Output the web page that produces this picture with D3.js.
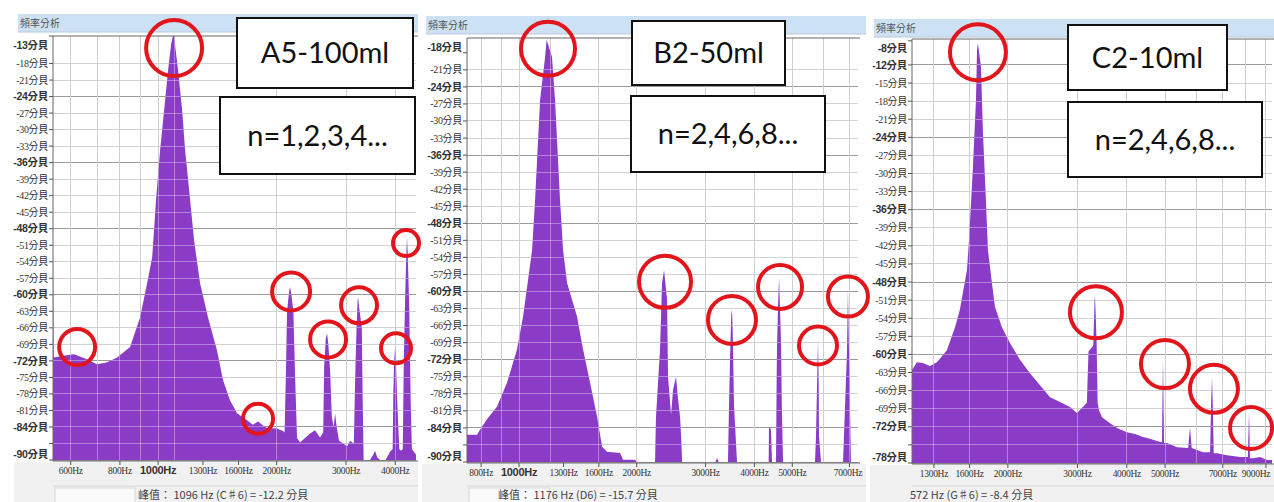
<!DOCTYPE html>
<html>
<head>
<meta charset="utf-8">
<script src="https://cdn.jsdelivr.net/npm/d3@7.9.0/dist/d3.min.js"></script>
<style>
  body { margin: 0; background: #fff; }
  svg { display: block; }
</style>
</head>
<body>
<svg id="chart" width="1274" height="502"></svg>
<script>
// ---- panel A : A5-100ml ----
const freqA = [541, 543, 580, 612, 650, 700, 740, 787, 849, 900, 938, 966, 988, 1012, 1036, 1060, 1079, 1096, 1104, 1124, 1151, 1171, 1206, 1234, 1278, 1339, 1411, 1462, 1523, 1586, 1682, 1740, 1794, 1850, 1891, 2004, 2080,
  2095, 2110, 2125, 2150, 2163, 2180, 2205, 2230, 2253, 2293, 2360, 2431, 2503, 2577, 2625,
  2640, 2665, 2685, 2705, 2735, 2760, 2790, 2814, 2840, 2880, 2949, 3020, 3072, 3140,
  3165, 3190, 3210, 3219, 3235, 3290, 3305, 3325, 3450, 3520, 3554, 3600, 3660, 3780, 3880, 3940,
  3955, 3975, 3996, 4015, 4050, 4095, 4140, 4180, 4205, 4240, 4270, 4286, 4300, 4340, 4380, 4410, 4438, 4516];
const dbA = [-52, -71.4, -71, -70.8, -71.5, -72.6, -72.3, -71.4, -69.5, -64.1, -57.9, -53.2, -42.8, -33.7, -26.5, -19.2, -14.6, -12.2, -14.6, -19.2, -26.5, -33.7, -42.8, -50.1, -57.9, -64.1, -70.1, -75.5, -79.2, -81.5, -82.8, -83.6, -83.0, -83.8, -84.2, -84.3, -84.8,
  -85, -75, -63, -59.5, -58.6, -60, -63, -76, -86, -86.8, -86, -85.2, -84.6, -85.9, -85,
  -73, -68, -67, -69, -74, -82, -84, -81.5, -84, -86.5, -87, -87.5, -86.5, -87,
  -75, -66, -61, -60.5, -62, -66, -78, -90, -90, -89, -88.3, -89.5, -90, -90, -88.5, -88,
  -78, -72, -69.5, -72, -80, -88, -88.3, -88, -72, -60, -52, -49.7, -52, -62, -80, -88, -88.3, -89];
const domainA = [541, 4516];
const yTicksA = [-13, -18, -21, -24, -27, -30, -33, -36, -39, -42, -45, -48, -51, -54, -57, -60, -63, -66, -69, -72, -75, -78, -81, -84, -87, -90];
const yBoldA = [-13, -24, -36, -48, -60, -72, -84, -90];
const yHideA = [-87];
const gridA = [600, 700, 800, 900, 1000, 1100, 2000, 3000, 4000];
const xTicksA = [600, 800, 1000, 1300, 1600, 2000, 3000, 4000];
const ringFreqA = [1098, 623, 1794, 2176, 2701, 3237, 4018, 4260];
const ringDbA = [-15.2, -69.5, -82.5, -59.4, -68.1, -61.9, -69.7, -50.6];
const ringRA = [28, 18, 15, 19, 18, 18, 15, 13];

// ---- panel B : B2-50ml ----
const freqB = [736, 781, 795, 828, 878, 932, 988, 1024, 1080, 1099, 1132, 1166, 1176, 1214, 1236, 1273, 1296, 1327, 1407, 1458, 1519, 1583, 1631, 1679, 1813, 1845, 1980, 2000,
  2228, 2240, 2254, 2294, 2321, 2349, 2391, 2405, 2448, 2477, 2521, 2551, 2581, 2600, 2612,
  3180, 3210, 3240, 3423, 3440, 3464, 3490, 3505, 3520, 3547, 3610,
  4350, 4358, 4384, 4410, 4437, 4542, 4560, 4569, 4600, 4624, 4650, 4679, 4700, 4734,
  5715, 5749, 5790, 5817, 5840, 5852, 5921, 6741, 6822, 6898, 6939, 6982, 7020, 7064, 7362];
const dbB = [-85.2, -85.2, -84.3, -82.5, -80.3, -76, -70.2, -64.4, -52.7, -43.9, -26.3, -18.7, -15.7, -18.7, -26.3, -43.9, -52.7, -58.5, -64.4, -70.2, -76, -82, -87.3, -88.2, -88.4, -89.6, -89.6, -90,
  -90, -82, -79, -70.2, -58.5, -56.2, -61.4, -75, -81.7, -77.3, -75, -79, -82, -86, -90,
  -90, -89.3, -90, -90, -82, -72, -64, -63.2, -67, -80, -90,
  -90, -84, -83.8, -84.5, -90, -90, -75, -69.7, -62, -57.6, -63, -69, -80, -90,
  -90, -85.5, -75, -68.5, -76, -85.5, -90, -90, -80, -70.8, -59.7, -70.8, -80, -90, -90];
const domainB = [736, 7362];
const yTicksB = [-18, -21, -24, -27, -30, -33, -36, -39, -42, -45, -48, -51, -54, -57, -60, -63, -66, -69, -72, -75, -78, -81, -84, -87, -90];
const yBoldB = [-18, -24, -36, -48, -60, -72, -84, -90];
const yHideB = [-87];
const gridB = [800, 900, 1000, 1200, 1600, 2000, 3000, 4000, 5000, 6000, 7000];
const xTicksB = [800, 1000, 1300, 1600, 2000, 3000, 4000, 5000, 7000];
const ringFreqB = [1186, 2363, 3505, 4651, 5817, 6939];
const ringDbB = [-17.3, -58.3, -65, -59.2, -69.5, -60.9];
const ringRB = [27, 26, 24, 22, 19, 20];

// ---- panel C : C2-10ml ----
const freqC = [1144, 1177, 1219, 1270, 1323, 1402, 1470, 1512, 1576, 1595, 1632, 1661, 1671, 1680, 1710, 1730, 1760, 1781, 1823, 1855, 1932, 2025, 2146, 2275, 2412, 2557, 2710, 2873, 2993, 3045,
  3170, 3200, 3290, 3315, 3323, 3335, 3355, 3375, 3401, 3462, 3627, 3800, 4005, 4200, 4395, 4600, 4855, 4910, 4940, 4970, 5057, 5360,
  5720, 5781, 5840, 6236, 6500, 6540, 6573, 6600, 6640, 6768, 7174, 7737, 8100, 8140, 8155, 8170, 8200, 8347, 8695, 9057, 9324];
const dbC = [-62.6, -61.3, -61.4, -61.9, -61.3, -59.3, -55.5, -52.6, -46, -41, -28.9, -17.8, -9.5, -8.4, -12.3, -23.3, -34.4, -42.7, -48.2, -52.1, -55.5, -58.1, -60.9, -63.1, -65.1, -67.1, -67.9, -68.7, -69.7, -69.2,
  -68, -59.5, -58.5, -51, -50.2, -53, -58, -68, -69.2, -70.4, -71.4, -72.3, -72.9, -73.2, -73.7, -74, -74.5, -74.5, -60.6, -74.7, -74.7, -75.4,
  -75.5, -72.1, -75.5, -76.2, -76.2, -67.9, -63.8, -67.9, -76.4, -76.4, -76.7, -77, -77, -71.7, -69.6, -71.7, -77.2, -77.2, -77, -77.5, -77.5];
const domainC = [1144, 9324];
const yTicksC = [-8, -12, -15, -18, -21, -24, -27, -30, -33, -36, -39, -42, -45, -48, -51, -54, -57, -60, -63, -66, -69, -72, -75, -78];
const yBoldC = [-8, -12, -24, -36, -48, -60, -72, -78];
const yHideC = [-75];
const gridC = [1300, 1600, 2000, 3000, 4000, 5000, 6000, 7000, 8000, 9000];
const xTicksC = [1300, 1600, 2000, 3000, 4000, 5000, 7000, 9000];
const ringFreqC = [1680, 3342, 4997, 6647, 8251];
const ringDbC = [-9.9, -53, -61.6, -65.7, -72.2];
const ringRC = [28, 26, 24, 24, 21];

// layout of the three screenshots
const panels = [
  { id: 'A', freq: freqA, db: dbA, domain: domainA, dbRange: [-90, -13], yTicks: yTicksA, yBold: yBoldA, yHide: yHideA, grid: gridA, xTicks: xTicksA,
    rings: [ringFreqA, ringDbA, ringRA], x0: 14, x1: 418, left: 53, right: 416, top: 36, bottom: 460, barTop: 14,
    title: 'A5-100ml', note: 'n=1,2,3,4...', box1: [237, 18, 176, 70], box2: [220, 97, 195, 77],
    peak: '峰值： 1096 Hz (C♯6) = -12.2 分貝', peakX: 138 },
  { id: 'B', freq: freqB, db: dbB, domain: domainB, dbRange: [-90, -15.4], yTicks: yTicksB, yBold: yBoldB, yHide: yHideB, grid: gridB, xTicks: xTicksB,
    rings: [ringFreqB, ringDbB, ringRB], x0: 422, x1: 866, left: 467, right: 858, top: 38, bottom: 462, barTop: 16,
    title: 'B2-50ml', note: 'n=2,4,6,8...', box1: [632, 21, 153, 64], box2: [631, 96, 194, 76],
    peak: '峰值： 1176 Hz (D6) = -15.7 分貝', peakX: 498 },
  { id: 'C', freq: freqC, db: dbC, domain: domainC, dbRange: [-78, -7.7], yTicks: yTicksC, yBold: yBoldC, yHide: yHideC, grid: gridC, xTicks: xTicksC,
    rings: [ringFreqC, ringDbC, ringRC], x0: 870, x1: 1274, left: 912, right: 1272, top: 39, bottom: 463, barTop: 19,
    title: 'C2-10ml', note: 'n=2,4,6,8...', box1: [1068, 25, 159, 65], box2: [1068, 102, 194, 75],
    peak: '572 Hz (G♯6) = -8.4 分貝', peakX: 910 }
];

const svg = d3.select('#chart');
const defs = svg.append('defs');
const purple = '#8a3cc6';

function drawPanel(p) {
  let g = svg.append('g');
  let x = d3.scaleLog().domain(p.domain).range([p.left, p.right]);
  let y = d3.scaleLinear().domain(p.dbRange).range([p.bottom, p.top]);

  // window chrome
  g.append('rect').attr('x', p.x0).attr('y', p.bottom + 2).attr('width', p.x1 - p.x0).attr('height', 502 - p.bottom)
    .attr('fill', '#f1f1f1');
  g.append('rect').attr('x', p.x0 + 4).attr('y', p.barTop).attr('width', p.x1 - p.x0 - 4).attr('height', 18)
    .attr('fill', '#cde1f5');
  g.append('line').attr('x1', p.x0 + 4).attr('x2', p.x1).attr('y1', p.barTop + 18).attr('y2', p.barTop + 18)
    .attr('stroke', '#b8c8d8');
  g.append('text').attr('x', p.x0 + 6).attr('y', p.barTop + 13).text('頻率分析')
    .attr('font-family', 'Noto Sans CJK TC').attr('font-size', 10).attr('fill', '#555');

  // plot background
  g.append('rect').attr('x', p.left).attr('y', p.top).attr('width', p.right - p.left).attr('height', p.bottom - p.top)
    .attr('fill', '#fff');

  let clipId = 'plot' + p.id;
  defs.append('clipPath').attr('id', clipId).append('rect')
    .attr('x', p.left).attr('y', p.top).attr('width', p.right - p.left).attr('height', p.bottom - p.top);

  let hLines = p.yTicks.slice(1);
  let drawGrid = (sel, light) => {
    sel.selectAll('line.h').data(hLines).join('line').attr('class', 'h')
      .attr('x1', p.left).attr('x2', p.right).attr('y1', d => y(d)).attr('y2', d => y(d))
      .attr('stroke', d => light ? 'rgba(255,255,255,0.35)' : (p.yBold.includes(d) ? '#9a9a9a' : '#d2d2d2'));
    sel.selectAll('line.v').data(p.grid).join('line').attr('class', 'v')
      .attr('x1', d => x(d)).attr('x2', d => x(d)).attr('y1', p.top).attr('y2', p.bottom)
      .attr('stroke', light ? 'rgba(255,255,255,0.35)' : '#cfcfcf');
  };
  drawGrid(g.append('g').attr('shape-rendering', 'crispEdges'), false);

  // spectrum
  let pts = p.freq.map((f, i) => [f, p.db[i]]);
  let area = d3.area().x(d => x(d[0])).y0(p.bottom).y1(d => y(d[1]));
  g.append('path').attr('d', area(pts)).attr('fill', purple).attr('clip-path', `url(#${clipId})`);

  // grid showing through the fill
  let fillId = 'fill' + p.id;
  defs.append('clipPath').attr('id', fillId).append('path').attr('d', area(pts));
  drawGrid(g.append('g').attr('clip-path', `url(#${fillId})`).attr('shape-rendering', 'crispEdges'), true);

  // frame
  g.append('line').attr('x1', p.left).attr('x2', p.right + 2).attr('y1', p.top).attr('y2', p.top).attr('stroke', '#666');
  g.append('line').attr('x1', p.left).attr('x2', p.left).attr('y1', p.top).attr('y2', p.bottom + 1).attr('stroke', '#666');
  g.append('line').attr('x1', p.left).attr('x2', p.right + 2).attr('y1', p.bottom + 1).attr('y2', p.bottom + 1).attr('stroke', '#666');

  // y labels
  let yl = g.append('g');
  p.yTicks.forEach((v, i) => {
    let yy = y(v);
    yl.append('line').attr('x1', p.left - 4).attr('x2', p.left).attr('y1', yy).attr('y2', yy).attr('stroke', '#555');
    if (p.yHide.includes(v)) return;
    let ty = Math.max(p.top + 9, Math.min(p.bottom - 6, yy));
    if (i === 0) ty = p.top + 9;
    let bold = p.yBold.includes(v);
    yl.append('text').attr('x', p.left - 5).attr('y', ty).attr('dy', '0.35em').attr('text-anchor', 'end')
      .attr('font-family', bold ? 'Liberation Sans, Noto Sans CJK TC' : 'Liberation Serif, Noto Sans CJK TC')
      .attr('font-weight', bold ? 'bold' : 'normal').attr('font-size', bold ? 10.5 : 10)
      .attr('letter-spacing', -0.3).attr('fill', '#333').text(`${v}分貝`);
  });

  // x labels
  let xl = g.append('g');
  p.xTicks.forEach(f => {
    xl.append('line').attr('x1', x(f)).attr('x2', x(f)).attr('y1', p.bottom + 1).attr('y2', p.bottom + 5).attr('stroke', '#555');
    let big = f === 1000;
    let lx = Math.min(x(f), p.x1 - 18);
    xl.append('text').attr('x', lx).attr('y', p.bottom + 14).attr('text-anchor', 'middle')
      .attr('font-family', big ? 'Liberation Sans' : 'Liberation Serif').attr('font-weight', big ? 'bold' : 'normal')
      .attr('font-size', big ? 11 : 9.5).attr('letter-spacing', -0.3).attr('fill', '#333').text(`${f}Hz`);
  });

  // footer
  g.append('line').attr('x1', p.left).attr('x2', p.x1).attr('y1', 486).attr('y2', 486).attr('stroke', '#d6d6d6');
  if (p.id !== 'C') {
    g.append('rect').attr('x', p.left + 2).attr('y', 488).attr('width', 80).attr('height', 16)
      .attr('fill', '#fafafa').attr('stroke', '#d8d8d8');
  }
  g.append('text').attr('x', p.peakX).attr('y', 499).text(p.peak)
    .attr('font-family', 'Noto Sans CJK TC').attr('font-size', 11).attr('fill', '#444');

  // red rings
  let [rf, rd, rr] = p.rings;
  g.selectAll('circle.ring').data(rf).join('circle').attr('class', 'ring')
    .attr('cx', d => x(d)).attr('cy', (d, i) => y(rd[i])).attr('r', (d, i) => rr[i])
    .attr('fill', 'none').attr('stroke', '#e3151c').attr('stroke-width', 4);

  // text boxes
  [[p.box1, p.title], [p.box2, p.note]].forEach(([b, t]) => {
    g.append('rect').attr('x', b[0]).attr('y', b[1]).attr('width', b[2]).attr('height', b[3])
      .attr('fill', '#fff').attr('stroke', '#111').attr('stroke-width', 2);
    g.append('text').attr('x', b[0] + b[2] / 2).attr('y', b[1] + b[3] / 2).attr('dy', '0.36em')
      .attr('text-anchor', 'middle').attr('font-family', 'Lato, Open Sans').attr('font-size', 29)
      .attr('fill', '#111').text(t);
  });
}

panels.forEach(drawPanel);
</script>
</body>
</html>
